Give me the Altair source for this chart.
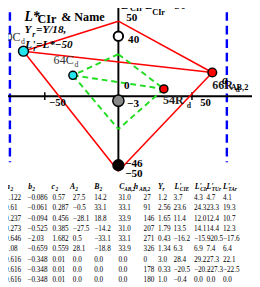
import altair as alt
import pandas as pd

FONT = "Liberation Serif"

# ---------------- values (a_AB,2 , b_AB,2 units) ----------------
# outer (red) polygon: top, 80C_d, 66R_d, bottom
outer_a = [0.0, -64.5, 63.8, 0.0]
outer_b = [50.0, 30.0, 15.8, -50.0]
# inner (green dashed) polygon: top, 64C_d, 54R_d, bottom
inner_a = [0.0, -30.9, 30.9, 0.0]
inner_b = [28.0, 13.9, 4.8, -22.0]
edges = [(0, 1), (0, 2), (1, 2), (1, 3), (2, 3)]

# achromatic samples on the L' axis: white, grey, black
achro_b = [40.0, -3.0, -46.0]

# chromatic samples
sample_names = ["80Cd", "64Cd", "66Rd", "54Rd"]
sample_a = [-64.5, -30.9, 63.8, 30.9]
sample_b = [30.0, 13.9, 15.8, 4.8]

# dashed blue limits
limit_a = [-73.7, 73.7]
limit_b = [56.0, -44.0]

tick_a = [-50.0, 50.0]

# visible extent of the plane
x_extent = [-75.0, 90.79]
y_extent = [-124.19, 55.81]
lprime_axis = [-50.0, 60.0]

# vertical axis labels
v_labels = ["50", "40", "0", "−3", "−46", "−50"]
v_label_a = [5.3, 6.6, 3.9, 5.9, 4.6, 4.6]
v_label_b = [50.0, 35.2, 4.8, -7.4, -47.4, -53.9]

# horizontal tick labels
h_labels = ["−50", "50"]
h_label_a = [-41.4, 59.2]
h_label_b = [-6.8, -6.8]

# ---------------- table ----------------
header_main = ["a", "b", "c", "A", "B", "C", "h", "Y", "L'", "L'", "L'", "L'"]
header_sub = ["2", "2", "2", "2", "2", "AB,2", "AB,2", "r", "CIE", "CIr", "TUr", "TAr"]
row1 = ["1.122", "−0.086", "0.57", "27.5", "14.2", "31.0", "27", "1.2", "3.7", "4.3", "4.7", "4.1"]
row2 = ["0.61", "−0.061", "0.287", "−0.5", "33.1", "33.1", "91", "2.56", "23.6", "24.3", "23.3", "19.3"]
row3 = ["0.237", "−0.094", "0.456", "−28.1", "18.8", "33.9", "146", "1.65", "11.4", "12.0", "12.4", "10.7"]
row4 = ["0.273", "−0.525", "0.385", "−27.5", "−14.2", "31.0", "207", "1.79", "13.5", "14.1", "14.4", "12.3"]
row5 = ["0.646", "−2.03", "1.682", "0.5", "−33.1", "33.1", "271", "0.43", "−16.2", "−15.9", "−20.5", "−17.6"]
row6 = ["1.08", "−0.659", "0.559", "28.1", "−18.8", "33.9", "326", "1.34", "6.3", "6.9", "7.4", "6.4"]
row7 = ["0.616", "−0.348", "0.01", "0.0", "0.0", "0.0", "0", "3.0", "28.4", "29.2", "27.3", "22.1"]
row8 = ["0.616", "−0.348", "0.01", "0.0", "0.0", "0.0", "178", "0.33", "−20.5", "−20.2", "−27.3", "−22.5"]
row9 = ["0.616", "−0.348", "0.01", "0.0", "0.0", "0.0", "180", "1.0", "−0.4", "0.0", "0.0", "0.0"]
table_rows = [row1, row2, row3, row4, row5, row6, row7, row8, row9]

# layout of the table (pixel positions of columns / rows)
col_x = [-3, 20, 46, 67, 89, 114, 140, 155, 171, 192, 205, 222]
head_x = [-2, 21, 45, 64, 89, 115, 130, 155, 172, 193, 205, 222]
head_sub_x = [2.5, 25, 49, 69.5, 94.5, 120, 135.5, 159.5, 177.5, 198.5, 210.5, 227.5]
row_y = [194, 278.5]

W, H = 252, 279

XS = alt.Scale(domain=x_extent, nice=False, zero=False)
YS = alt.Scale(domain=y_extent, nice=False, zero=False)
X = alt.X("a:Q", scale=XS, axis=None)
Y = alt.Y("b:Q", scale=YS, axis=None)


def seg_layer(df, **mk):
    return alt.Chart(df).mark_rule(**mk).encode(x=X, x2="a2:Q", y=Y, y2="b2:Q")


def edges_df(pa, pb):
    return pd.DataFrame([{"a": pa[i], "b": pb[i], "a2": pa[j], "b2": pb[j]} for i, j in edges])


def text_layer(texts, av, bv, size, weight="normal", style="normal", align="left", color="black"):
    df = pd.DataFrame({"t": texts, "a": av, "b": bv})
    return alt.Chart(df).mark_text(font=FONT, fontSize=size, fontWeight=weight, fontStyle=style,
                                   align=align, baseline="alphabetic", color=color).encode(
        x=X, y=Y, text="t:N")


def point_layer(av, bv, fill, size, sw):
    df = pd.DataFrame({"a": av, "b": bv})
    return alt.Chart(df).mark_circle(fill=fill, stroke="black", strokeWidth=sw, size=size,
                                     opacity=1, fillOpacity=1, strokeOpacity=1).encode(x=X, y=Y)


layers = []

# blue dashed limits
blue_df = pd.DataFrame({"a": limit_a, "b": [limit_b[0]] * 2, "a2": limit_a, "b2": [limit_b[1]] * 2})
layers.append(seg_layer(blue_df, color="#0000FF", strokeWidth=2.5, strokeDash=[9, 5]))

# axes
axes_df = pd.DataFrame({"a": [x_extent[0], 0.0], "b": [0.0, lprime_axis[0]],
                        "a2": [x_extent[1], 0.0], "b2": [0.0, lprime_axis[1]]})
layers.append(seg_layer(axes_df, color="black", strokeWidth=2))
ticks_df = pd.DataFrame({"a": tick_a, "b": [-2.6, -2.6], "a2": tick_a, "b2": [2.6, 2.6]})
layers.append(seg_layer(ticks_df, color="black", strokeWidth=1.5))

# red and green polygons
layers.append(seg_layer(edges_df(outer_a, outer_b), color="#FF0000", strokeWidth=1.6))
layers.append(seg_layer(edges_df(inner_a, inner_b), color="#22DD22", strokeWidth=2, strokeDash=[6, 4]))

# text annotations (behind the sample circles)
layers.append(text_layer(["L*"], [-63.8], [50.3], 14, "bold", "italic"))
layers.append(text_layer(["CIr", "& Name"], [-54.9, -38.8], [49.0, 50.3], 12.5, "bold"))
layers.append(text_layer(["Y", "=Y/18,", "L'", "=L*−50"], [-63.8, -55.9, -63.2, -55.9],
                         [41.9, 41.9, 31.9, 31.9], 11.5, "bold", "italic"))
layers.append(text_layer(["r", "r"], [-58.6, -57.9], [39.7, 30.0], 8, "bold", "italic"))
layers.append(text_layer(["L'", "=L*", "−50"], [2.0, 13.8, 33.6], [58.4, 58.4, 58.4], 12, "bold", "italic"))
layers.append(text_layer(["CIr", "CIr"], [7.9, 23.0], [56.5, 53.9], 8.5, "bold"))
layers.append(text_layer(["80C", "64C"], [-66.4, -30.3], [37.1, 21.6], 12.5, align="right", color="#333333"))
layers.append(text_layer(["d", "d"], [-66.1, -29.9], [34.8, 19.4], 8, color="#333333"))
layers.append(text_layer(["54R", "66R"], [30.3, 63.8], [-5.5, 4.8], 12.5, "bold", color="#222222"))
layers.append(text_layer(["d", "d"], [46.4, 79.6], [-7.7, 2.9], 8, "bold", color="#222222"))
layers.append(text_layer(["a"], [70.4], [8.1], 12, "bold", "italic"))
layers.append(text_layer(["AB,2"], [76.3], [4.2], 8.5, "bold"))
layers.append(text_layer(h_labels, h_label_a, h_label_b, 11, "bold", align="center"))
layers.append(text_layer(v_labels, v_label_a, v_label_b, 11.5, "bold"))

# sample circles
layers.append(point_layer([0.0], [achro_b[0]], "white", 95, 2))
layers.append(point_layer([0.0], [achro_b[1]], "#888888", 135, 1.5))
layers.append(point_layer([0.0], [achro_b[2]], "black", 125, 1.5))
layers.append(point_layer([sample_a[0]], [sample_b[0]], "#22E5EE", 105, 1.5))
layers.append(point_layer([sample_a[1]], [sample_b[1]], "#22E5EE", 70, 1.5))
layers.append(point_layer([sample_a[2]], [sample_b[2]], "#FF0000", 80, 1.5))
layers.append(point_layer([sample_a[3]], [sample_b[3]], "#FF0000", 70, 1.5))

# ---------------- table layers ----------------
cells = pd.DataFrame([{"c": ci, "r": ri, "t": v}
                      for ri, row in enumerate(table_rows) for ci, v in enumerate(row)])
TY = alt.Y("r:Q", scale=alt.Scale(domain=[0, len(table_rows) - 1], range=row_y, nice=False, zero=False),
           axis=None)
idx = list(range(len(header_main)))
layers.append(alt.Chart(cells).mark_text(font=FONT, fontSize=7.4, align="left", baseline="alphabetic",
                                         color="black").encode(
    x=alt.X("c:Q", scale=alt.Scale(domain=idx, range=col_x, nice=False, zero=False), axis=None),
    y=TY, text="t:N"))

head_df = pd.DataFrame({"c": idx, "t": header_main, "s": header_sub})
layers.append(alt.Chart(head_df).mark_text(font=FONT, fontSize=8, fontWeight="bold", fontStyle="italic",
                                           align="left", baseline="alphabetic", color="black").encode(
    x=alt.X("c:Q", scale=alt.Scale(domain=idx, range=head_x, nice=False, zero=False), axis=None),
    y=alt.value(182), text="t:N"))
layers.append(alt.Chart(head_df).mark_text(font=FONT, fontSize=5.5, fontWeight="bold", fontStyle="italic",
                                           align="left", baseline="alphabetic", color="black").encode(
    x=alt.X("c:Q", scale=alt.Scale(domain=idx, range=head_sub_x, nice=False, zero=False), axis=None),
    y=alt.value(184.5), text="s:N"))

chart = alt.layer(*layers).resolve_scale(x="independent", y="independent").properties(
    width=W, height=H, padding=0, autosize=alt.AutoSizeParams(type="none"), background="white"
).configure_view(stroke=None)

chart.save("out.html", embed_options={"renderer": "svg", "actions": False})
